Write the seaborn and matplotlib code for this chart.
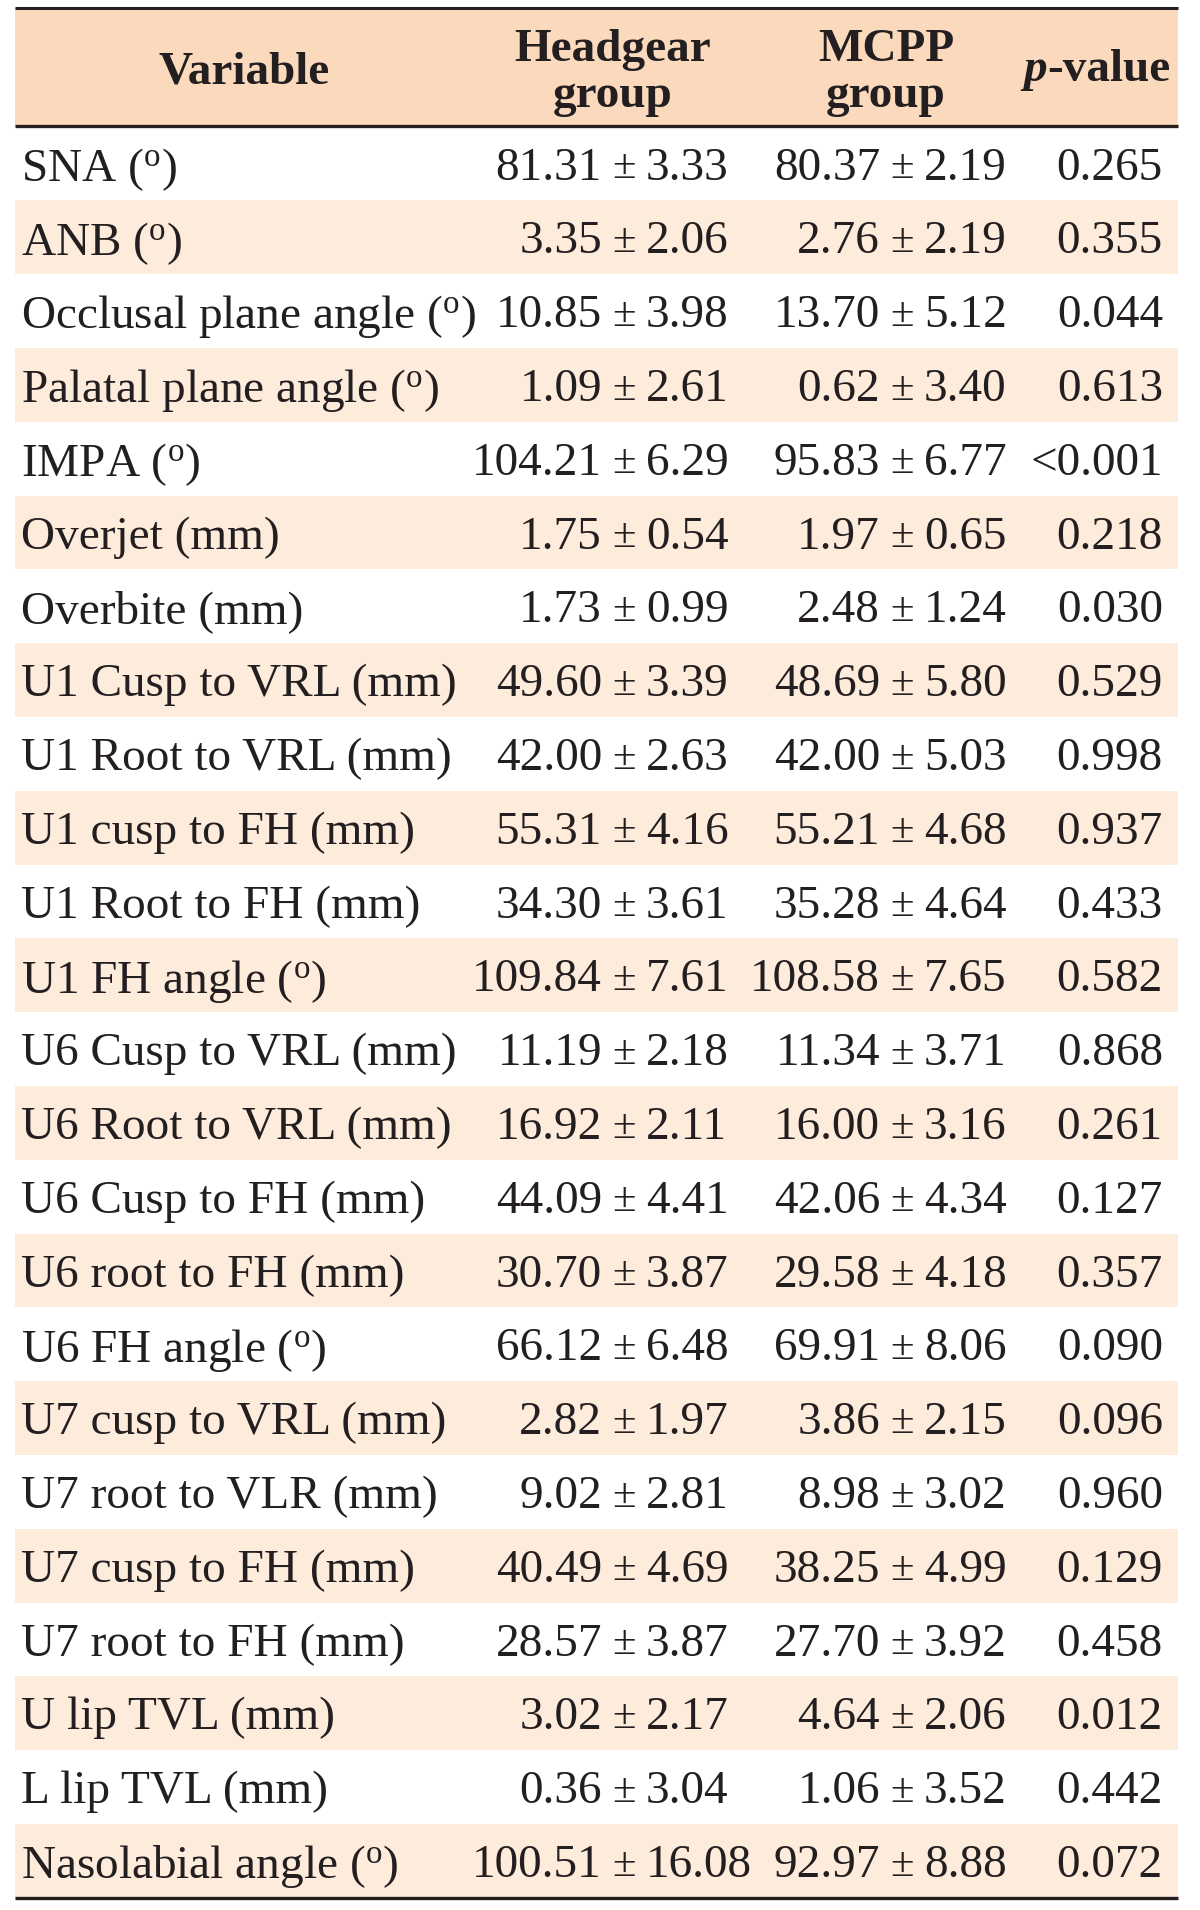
import numpy as np
import pandas as pd
import seaborn as sns
import matplotlib
matplotlib.use("Agg")
import matplotlib.pyplot as plt

# ---------------- data ----------------
variables = [
    "SNA (°)", "ANB (°)", "Occlusal plane angle (°)", "Palatal plane angle (°)",
    "IMPA (°)", "Overjet (mm)", "Overbite (mm)", "U1 Cusp to VRL (mm)",
    "U1 Root to VRL (mm)", "U1 cusp to FH (mm)", "U1 Root to FH (mm)",
    "U1 FH angle (°)", "U6 Cusp to VRL (mm)", "U6 Root to VRL (mm)",
    "U6 Cusp to FH (mm)", "U6 root to FH (mm)", "U6 FH angle (°)",
    "U7 cusp to VRL (mm)", "U7 root to VLR (mm)", "U7 cusp to FH (mm)",
    "U7 root to FH (mm)", "U lip TVL (mm)", "L lip TVL (mm)",
    "Nasolabial angle (°)",
]
headgear_mean = [81.31, 3.35, 10.85, 1.09, 104.21, 1.75, 1.73, 49.60, 42.00, 55.31,
                 34.30, 109.84, 11.19, 16.92, 44.09, 30.70, 66.12, 2.82, 9.02, 40.49,
                 28.57, 3.02, 0.36, 100.51]
headgear_sd = [3.33, 2.06, 3.98, 2.61, 6.29, 0.54, 0.99, 3.39, 2.63, 4.16,
               3.61, 7.61, 2.18, 2.11, 4.41, 3.87, 6.48, 1.97, 2.81, 4.69,
               3.87, 2.17, 3.04, 16.08]
mcpp_mean = [80.37, 2.76, 13.70, 0.62, 95.83, 1.97, 2.48, 48.69, 42.00, 55.21,
             35.28, 108.58, 11.34, 16.00, 42.06, 29.58, 69.91, 3.86, 8.98, 38.25,
             27.70, 4.64, 1.06, 92.97]
mcpp_sd = [2.19, 2.19, 5.12, 3.40, 6.77, 0.65, 1.24, 5.80, 5.03, 4.68,
           4.64, 7.65, 3.71, 3.16, 4.34, 4.18, 8.06, 2.15, 3.02, 4.99,
           3.92, 2.06, 3.52, 8.88]
p_values = ["0.265", "0.355", "0.044", "0.613", "<0.001", "0.218", "0.030", "0.529",
            "0.998", "0.937", "0.433", "0.582", "0.868", "0.261", "0.127", "0.357",
            "0.090", "0.096", "0.960", "0.129", "0.458", "0.012", "0.442", "0.072"]

df = pd.DataFrame({
    "variable": variables,
    "hg_mean": headgear_mean, "hg_sd": headgear_sd,
    "mc_mean": mcpp_mean, "mc_sd": mcpp_sd,
    "p": p_values,
})

# ---------------- style ----------------
sns.set_theme(style="white")
plt.rcParams["font.family"] = ["Liberation Serif", "DejaVu Serif"]
plt.rcParams["mathtext.fontset"] = "custom"
plt.rcParams["mathtext.rm"] = "Liberation Serif"
plt.rcParams["mathtext.it"] = "Liberation Serif:italic"
plt.rcParams["mathtext.bf"] = "Liberation Serif:bold"

TXT = "#231f20"
HEAD_BG = "#fad9bc"
STRIPE = "#fdebdc"
FS = 34

W, H = 1200, 1910
fig = plt.figure(figsize=(W / 100, H / 100), dpi=100)
ax = fig.add_axes([0, 0, 1, 1])
ax.set_xlim(0, W)
ax.set_ylim(H, 0)
ax.axis("off")

x0, x1 = 15, 1178
top, head_bot = 8, 126.5
row_h = 73.8
n = len(df)

def deg(s):
    return s.replace("(°)", r"($^{\mathrm{o}}$)")

# header background
ax.fill_between([x0, x1], top, head_bot, color=HEAD_BG, lw=0)
# stripes
for i in range(n):
    yt = head_bot + i * row_h
    if i % 2 == 1:
        ax.fill_between([x0, x1], yt, yt + row_h, color=STRIPE, lw=0)

# rules
bottom = head_bot + n * row_h
ax.plot([x0, x1], [top, top], color=TXT, lw=2.2, solid_capstyle="butt")
ax.plot([x0, x1], [head_bot, head_bot], color=TXT, lw=2.4, solid_capstyle="butt")
ax.plot([x0, x1], [bottom, bottom], color=TXT, lw=2.4, solid_capstyle="butt")

# header text
ax.text(244, 72, "Variable", ha="center", va="center", fontsize=FS,
        fontweight="bold", color=TXT)
for cx, l1 in [(613, "Headgear"), (886, "MCPP")]:
    ax.text(cx, 50, l1, ha="center", va="center", fontsize=FS, fontweight="bold", color=TXT)
    ax.text(cx, 96, "group", ha="center", va="center", fontsize=FS, fontweight="bold", color=TXT)
px = 1047
ax.text(px, 70, "p", ha="right", va="center", fontsize=FS, fontweight="bold",
        fontstyle="italic", color=TXT)
ax.text(px, 70, "-value", ha="left", va="center", fontsize=FS, fontweight="bold", color=TXT)

# body text
GAP = 22
PM_X = {"hg": 624, "mc": 902}
for i, row in df.iterrows():
    yc = head_bot + (i + 0.5) * row_h
    kw = dict(va="center_baseline", fontsize=FS, color=TXT)
    ax.text(21, yc, deg(row["variable"]), ha="left", **kw)
    for key, pmx in PM_X.items():
        ax.text(pmx - GAP, yc, f"{row[key + '_mean']:.2f}", ha="right", **kw)
        ax.text(pmx, yc, "±", ha="center", va="center_baseline", fontsize=FS - 3, color=TXT)
        ax.text(pmx + GAP, yc, f"{row[key + '_sd']:.2f}", ha="left", **kw)
    ax.text(1163, yc, row["p"], ha="right", **kw)

fig.savefig("out.png", dpi=100, facecolor="white")
